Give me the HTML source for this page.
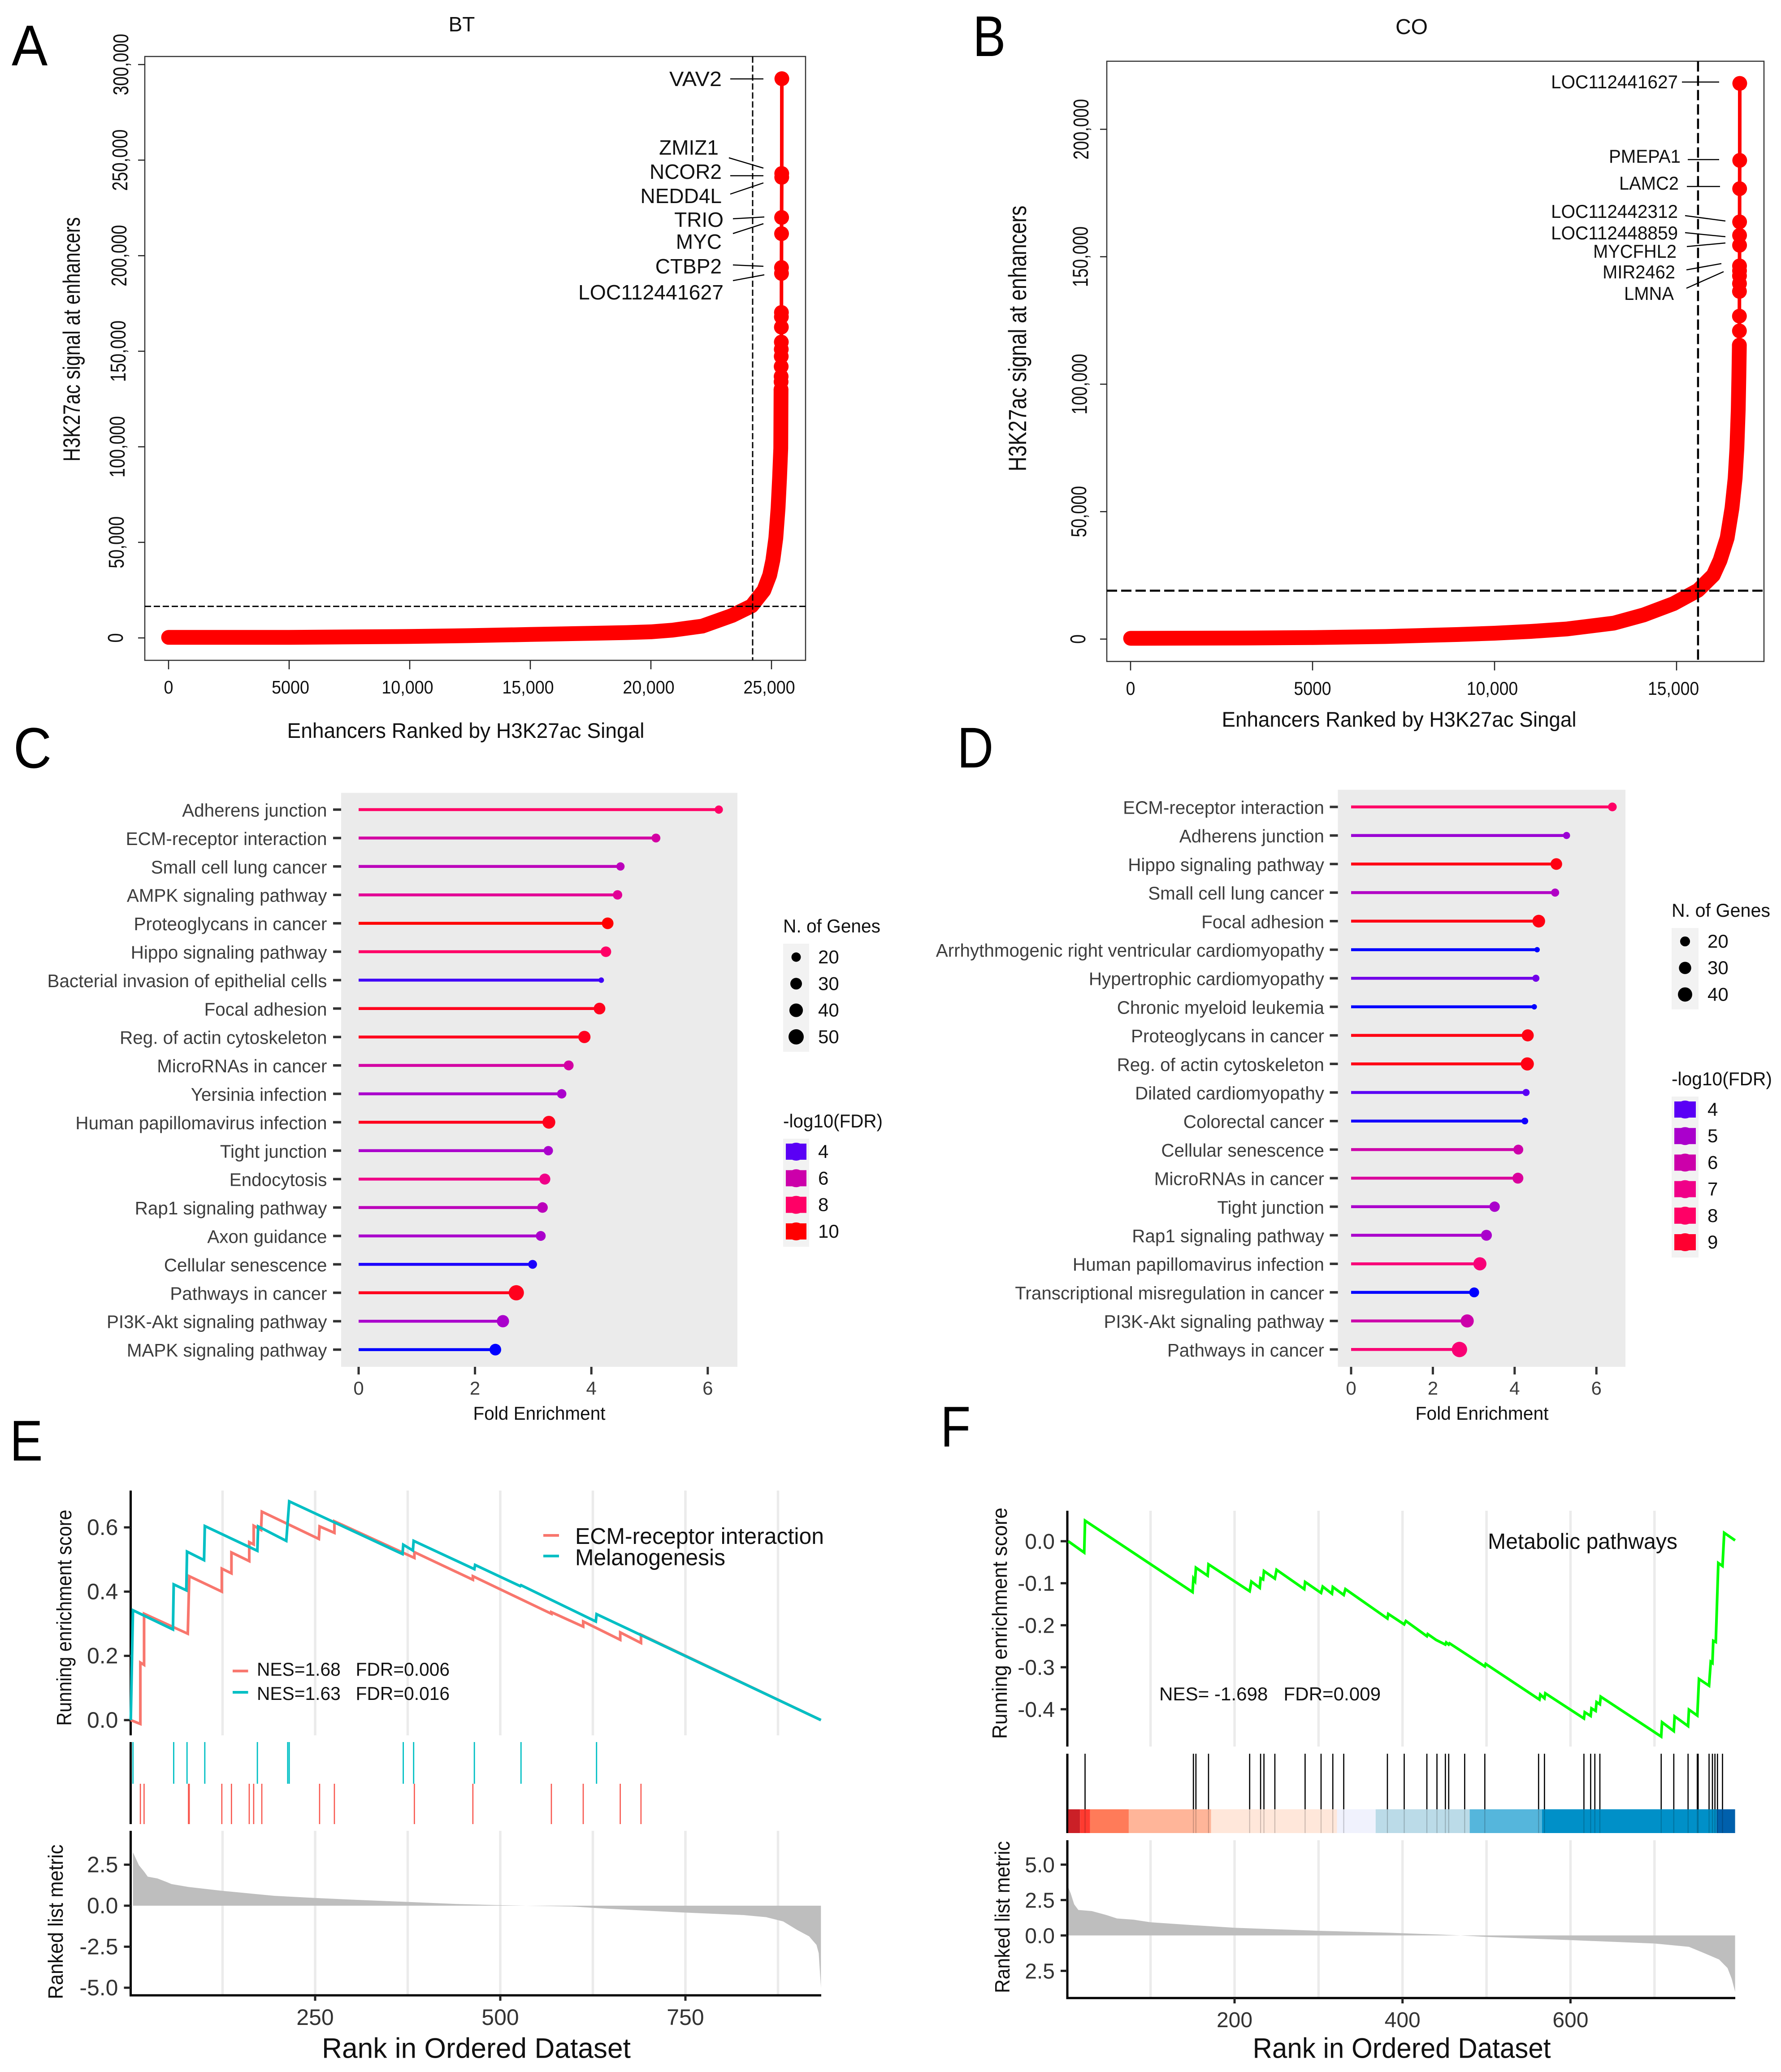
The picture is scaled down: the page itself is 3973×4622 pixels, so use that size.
<!DOCTYPE html>
<html lang="en">
<head>
<meta charset="utf-8">
<title>Enhancer ranking, pathway enrichment and GSEA panels</title>
<style>
html,body{margin:0;padding:0;background:#fff;}
svg{display:block;font-family:"Liberation Sans",Arial,sans-serif;}
text{white-space:pre;}
.g{font-size:46px;fill:#111;text-anchor:end;}
.c{stroke:#000;stroke-width:2.5;fill:none;}
.l{font-size:128px;fill:#000;}
.d{fill:#111;text-anchor:middle;}
</style>
</head>
<body>
<svg id="fig" xmlns="http://www.w3.org/2000/svg" width="3973" height="4622" viewBox="0 0 3973 4622">
<rect width="3973" height="4622" fill="#fff"/>

<text class="l" transform="translate(26,146) scale(.94,1)">A</text>
<text class="l" transform="translate(2170,125) scale(.86,1)">B</text>
<text class="l" transform="translate(30,1713) scale(.92,1)">C</text>
<text class="l" transform="translate(2135,1712) scale(.88,1)">D</text>
<text class="l" transform="translate(22,3258) scale(.86,1)">E</text>
<text class="l" transform="translate(2098,3227) scale(.86,1)">F</text>

<g id="panelA">
<text class="d" x="1030" y="70" font-size="46">BT</text>
<text class="d" transform="translate(178,757) rotate(-90)" font-size="53" textLength="545" lengthAdjust="spacingAndGlyphs">H3K27ac signal at enhancers</text>
<text class="d" x="1039" y="1646" font-size="47" textLength="797" lengthAdjust="spacingAndGlyphs">Enhancers Ranked by H3K27ac Singal</text>
</g>
<g id="panelAlabels">
<text class="g" x="1610" y="192" textLength="117" lengthAdjust="spacingAndGlyphs">VAV2</text>
<text class="g" x="1603" y="345">ZMIZ1</text>
<text class="g" x="1610" y="399">NCOR2</text>
<text class="g" x="1610" y="453">NEDD4L</text>
<text class="g" x="1614" y="506">TRIO</text>
<text class="g" x="1610" y="555">MYC</text>
<text class="g" x="1610" y="610">CTBP2</text>
<text class="g" x="1614" y="668" textLength="324" lengthAdjust="spacingAndGlyphs">LOC112441627</text>
<path class="c" d="M1629 176L1703 176M1626 352L1703 375M1629 392L1703 392M1629 433L1703 408M1635 488L1705 484M1635 521L1703 499M1635 591L1703 594M1635 626L1705 613"/>
</g>

<g id="panelB">
<text class="d" x="3149" y="76" font-size="48">CO</text>
<text class="d" transform="translate(2289,755) rotate(-90)" font-size="56" textLength="593" lengthAdjust="spacingAndGlyphs">H3K27ac signal at enhancers</text>
<text class="d" x="3121" y="1621" font-size="47" textLength="791" lengthAdjust="spacingAndGlyphs">Enhancers Ranked by H3K27ac Singal</text>
</g>
<g id="panelBlabels" font-size="42" fill="#111" text-anchor="end">
<text x="3743" y="197" textLength="283" lengthAdjust="spacingAndGlyphs">LOC112441627</text>
<text x="3749" y="363" textLength="160" lengthAdjust="spacingAndGlyphs">PMEPA1</text>
<text x="3745" y="423" textLength="133" lengthAdjust="spacingAndGlyphs">LAMC2</text>
<text x="3743" y="486" textLength="283" lengthAdjust="spacingAndGlyphs">LOC112442312</text>
<text x="3743" y="534" textLength="283" lengthAdjust="spacingAndGlyphs">LOC112448859</text>
<text x="3740" y="575" textLength="186" lengthAdjust="spacingAndGlyphs">MYCFHL2</text>
<text x="3737" y="621" textLength="162" lengthAdjust="spacingAndGlyphs">MIR2462</text>
<text x="3734" y="669" textLength="111" lengthAdjust="spacingAndGlyphs">LMNA</text>
<path class="c" d="M3752 183L3835 183M3765 356L3835 356M3763 416L3837 416M3759 481L3849 493M3759 519L3849 528M3763 550L3849 542M3762 602L3840 588M3762 643L3845 606"/>
</g>

<g id="panelC"></g>
<g id="panelD"></g>
<g id="panelE"></g>
<g id="panelF"></g>
</svg>

<script>
/* ---------- Panel A data ---------- */
const rankA = [1,5000,10000,12500,15000,17500,19000,20000,20892,22131,23364,24176,24684,24926,25056,25180,25273,25335,25385,25395,25398,25400,25402,25404,25406,25408,25410,25410,25412,25415,25415,25418,25420,25425,25425,25430];
const signalA = [300,300,760,1200,1800,2400,2800,3200,4060,6170,11730,16730,24870,32840,40580,52300,68030,83600,99200,130000,134000,136800,142000,147300,151000,154800,162600,168000,170300,190700,193800,211500,220000,241000,243000,292600];
const xTicksA = [0,5000,10000,15000,20000,25000];
const xTickLabelsA = ["0","5000","10,000","15,000","20,000","25,000"];
const yTicksA = [0,50000,100000,150000,200000,250000,300000];
const yTickLabelsA = ["0","50,000","100,000","150,000","200,000","250,000","300,000"];
const cutoffSignalA = 16500;
const cutoffRankA = 24219;

/* ---------- Panel B data ---------- */
const rankB = [1,3000,5000,7000,9000,10000,11000,12000,13276,14097,14913,15591,16010,16194,16391,16523,16609,16658,16695,16712,16725,16727,16727,16728,16729,16729,16730,16730,16731,16731,16732,16733,16735,16736];
const signalB = [300,400,600,1000,1800,2300,3000,4000,6260,9480,13880,19150,25080,30880,39680,51460,63120,74850,90000,103000,115300,120900,126700,136400,139500,142500,144500,146400,154500,158400,163660,176700,187800,218000];
const xTicksB = [0,5000,10000,15000];
const xTickLabelsB = ["0","5000","10,000","15,000"];
const yTicksB = [0,50000,100000,150000,200000];
const yTickLabelsB = ["0","50,000","100,000","150,000","200,000"];
const cutoffSignalB = 19000;
const cutoffRankB = 15590;

/* ---------- Panel C data ---------- */
const pathwaysC = ["Adherens junction","ECM-receptor interaction","Small cell lung cancer","AMPK signaling pathway","Proteoglycans in cancer","Hippo signaling pathway","Bacterial invasion of epithelial cells","Focal adhesion","Reg. of actin cytoskeleton","MicroRNAs in cancer","Yersinia infection","Human papillomavirus infection","Tight junction","Endocytosis","Rap1 signaling pathway","Axon guidance","Cellular senescence","Pathways in cancer","PI3K-Akt signaling pathway","MAPK signaling pathway"];
const foldC = [6.19,5.11,4.50,4.45,4.28,4.25,4.17,4.14,3.88,3.61,3.49,3.27,3.26,3.20,3.16,3.13,2.99,2.71,2.48,2.35];
const genesC = [16,18,16,20,30,25,8,30,33,22,20,36,20,27,25,22,18,50,33,30];
const fdrC = [8,6.2,5.5,6.6,10,8,3.7,9.4,9.4,6.2,5,9.4,5,7,5.5,5,3.3,9.4,5,3];
const xTicksC = [0,2,4,6];
const sizeLegendC = [20,30,40,50];
const colorLegendC = [4,6,8,10];

/* ---------- Panel D data ---------- */
const pathwaysD = ["ECM-receptor interaction","Adherens junction","Hippo signaling pathway","Small cell lung cancer","Focal adhesion","Arrhythmogenic right ventricular cardiomyopathy","Hypertrophic cardiomyopathy","Chronic myeloid leukemia","Proteoglycans in cancer","Reg. of actin cytoskeleton","Dilated cardiomyopathy","Colorectal cancer","Cellular senescence","MicroRNAs in cancer","Tight junction","Rap1 signaling pathway","Human papillomavirus infection","Transcriptional misregulation in cancer","PI3K-Akt signaling pathway","Pathways in cancer"];
const foldD = [6.39,5.27,5.02,4.99,4.59,4.55,4.52,4.48,4.32,4.31,4.28,4.25,4.09,4.08,3.51,3.31,3.15,3.01,2.84,2.65];
const genesD = [16,11,27,14,32,7,11,7,29,34,11,10,20,24,22,24,34,20,34,46];
const fdrD = [8,4.8,9.6,5.2,9.6,3,4.3,3,9.6,9.6,4,3.2,6,6.4,5,5,7.5,3,6,7.6];
const xTicksD = [0,2,4,6];
const sizeLegendD = [20,30,40];
const colorLegendD = [4,5,6,7,8,9];

/* ---------- Panel E data ---------- */
const esRankRedE = [1,14,14,19,19,78,80,124,124,137,137,161,161,167,167,177,178,255,256,276,276,384,384,463,463,569,569,612,612,662,662,690,690,933];
const esRedE = [0,-0.012,0.179,0.172,0.331,0.269,0.448,0.40,0.4715,0.457,0.522,0.495,0.554,0.547,0.605,0.592,0.649,0.564,0.603,0.583,0.619,0.505,0.523,0.437,0.448,0.331,0.336,0.291,0.307,0.25,0.273,0.24,0.266,0];
const esRankTealE = [1,4,58,59,76,77,100,101,172,173,211,215,368,369,382,383,465,466,527,528,629,630,933];
const esTealE = [0,0.342,0.282,0.4225,0.404,0.5245,0.498,0.604,0.527,0.603,0.558,0.681,0.517,0.546,0.528,0.558,0.47,0.483,0.417,0.42,0.307,0.33,0];
const hitsTealE = [4,59,77,101,172,213,215,369,383,465,528,630];
const hitsRedE = [14,19,79,80,124,137,161,167,178,256,276,384,463,569,612,662,690];
const metricRankE = [4,8,12,19,24,37,49,56,79,124,172,195,250,303,375,442,500,535,596,643,750,828,859,882,901,917,927,930,933];
const metricE = [3.25,2.86,2.47,2.08,1.77,1.66,1.45,1.32,1.14,0.91,0.70,0.6,0.47,0.36,0.23,0.1,0.03,0,-0.05,-0.18,-0.42,-0.57,-0.7,-0.96,-1.48,-1.87,-2.39,-2.9,-5];
const gridE = [125,250,375,500,625,750,875];
const xTicksE = [250,500,750];
const esTicksE = [0,0.2,0.4,0.6];
const esTickLabelsE = ["0.0","0.2","0.4","0.6"];
const metricTicksE = [2.5,0,-2.5,-5];
const metricTickLabelsE = ["2.5","0.0","-2.5","-5.0"];

/* ---------- Panel F data ---------- */
const esRankF = [2,21,22,150,151,153,154,168,169,218,220,230,231,234,235,248,250,283,284,303,305,316,317,330,332,382,383,402,404,429,430,440,451,452,455,456,498,499,563,564,569,570,616,617,624,625,630,631,635,636,708,709,723,724,740,741,751,753,765,767,769,770,773,774,776,781,783,796];
const esF = [0,-0.027,0.049,-0.121,-0.089,-0.095,-0.063,-0.082,-0.055,-0.119,-0.096,-0.111,-0.088,-0.091,-0.071,-0.089,-0.068,-0.114,-0.097,-0.123,-0.108,-0.125,-0.109,-0.128,-0.114,-0.184,-0.173,-0.198,-0.19,-0.226,-0.221,-0.235,-0.246,-0.241,-0.246,-0.243,-0.298,-0.292,-0.377,-0.365,-0.374,-0.362,-0.422,-0.407,-0.416,-0.398,-0.404,-0.383,-0.388,-0.37,-0.465,-0.431,-0.452,-0.417,-0.44,-0.401,-0.415,-0.328,-0.344,-0.287,-0.29,-0.237,-0.24,-0.177,-0.052,-0.059,0.02,0.002];
const hitsF = [22,151,154,169,218,231,235,248,284,303,317,330,382,402,429,441,451,455,474,498,562,569,616,624,629,635,708,723,740,751,752,765,769,772,775,781];
const bandEndsF = [16,28,74,172,322,368,480,566,774,796];
const bandColorsF = ["#cb2027","#ff3b30","#ff7b59","#ffb599","#ffe7da","#f0f2fd","#bbdbe8","#55b6dc","#0090c8","#0060ac"];
const metricRankF = [2,5,9,14,30,47,60,80,100,152,200,300,381,446,469,500,600,700,741,760,777,787,792,796];
const metricF = [3.4,2.95,2.2,1.8,1.72,1.45,1.2,1.11,0.93,0.72,0.54,0.33,0.2,0.06,0,-0.1,-0.33,-0.57,-0.8,-1.27,-1.7,-2.3,-3.07,-3.98];
const gridF = [100,200,300,400,500,600,700];
const xTicksF = [200,400,600];
const esTicksF = [0,-0.1,-0.2,-0.3,-0.4];
const esTickLabelsF = ["0.0","-0.1","-0.2","-0.3","-0.4"];
const metricTicksF = [5,2.5,0,-2.5];
const metricTickLabelsF = ["5.0","2.5","0.0","2.5"];

/* ---------- helpers ---------- */
const NS = "http://www.w3.org/2000/svg";
function mk(parent, tag, attrs, name, text) {
  const n = document.createElementNS(NS, tag);
  for (const k in attrs) n.setAttribute(k, attrs[k]);
  
  
  if (text !== undefined) n.textContent = text;
  parent.appendChild(n);
  return n;
}
function line(p, x1, y1, x2, y2, stroke, w, name, dash) {
  const a = {x1, y1, x2, y2, stroke, 'stroke-width': w};
  if (dash) a['stroke-dasharray'] = dash;
  return mk(p, 'line', a, name);
}
function label(p, x, y, str, size, anchor, name, fill, sx, rot) {
  const t = 'translate(' + x + ',' + y + ')' + (rot ? ' rotate(' + rot + ')' : '') + (sx ? ' scale(' + sx + ',1)' : '');
  return mk(p, 'text', {transform: t, 'font-size': size, 'text-anchor': anchor, fill: fill || '#111'}, name, str);
}
function pts(xs, ys, fx, fy) {
  return xs.map((r, i) => fx(r).toFixed(1) + ',' + fy(ys[i]).toFixed(1)).join(' ');
}

/* ---------- enhancer rank panels ---------- */
function rankPanel(g, o) {
  mk(g, 'rect', {x: o.L, y: o.T, width: o.R - o.L, height: o.B - o.T, fill: 'none', stroke: '#333', 'stroke-width': 2.5}, 'plot-frame');
  const dense = o.signal.filter(v => v <= o.denseMax).length;
  mk(g, 'polyline', {points: pts(o.rank.slice(0, dense), o.signal.slice(0, dense), o.x, o.y), fill: 'none', stroke: '#ff0000', 'stroke-width': o.r * 2, 'stroke-linejoin': 'round', 'stroke-linecap': 'round'}, 'enhancer-curve-dense');
  mk(g, 'polyline', {points: pts(o.rank, o.signal, o.x, o.y), fill: 'none', stroke: '#ff0000', 'stroke-width': 8}, 'enhancer-curve');
  o.signal.forEach((v, i) => {
    if (v > o.denseMax * 0.95) mk(g, 'circle', {cx: o.x(o.rank[i]), cy: o.y(v), r: o.r, fill: '#ff0000'}, 'enhancer-point');
  });
  line(g, o.L, o.y(o.cutS), o.R, o.y(o.cutS), '#000', o.dw, 'super-enhancer-cutoff-signal', o.dash);
  line(g, o.x(o.cutR), o.T, o.x(o.cutR), o.B, '#000', o.dw, 'super-enhancer-cutoff-rank', o.dash);
  o.xTicks.forEach((t, i) => {
    line(g, o.x(t), o.B, o.x(t), o.B + 20, '#222', 2.5, 'x-tick');
    label(g, o.x(t) + o.xNudge[i], o.xLabY, o.xLabels[i], o.xSize, 'middle', 'x-tick-label', '#111', o.xSx);
  });
  o.yTicks.forEach((t, i) => {
    line(g, o.L - 15, o.y(t), o.L, o.y(t), '#222', 2.5, 'y-tick');
    label(g, o.yLabX(t), o.y(t), o.yLabels[i], 48, 'middle', 'y-tick-label', '#111', o.ySx, -90);
  });
}
rankPanel(document.getElementById('panelA'), {
  L: 323, R: 1797, T: 126, B: 1473, r: 16.5, denseMax: 130000, dw: 3, dash: '14 6',
  rank: rankA, signal: signalA, cutS: cutoffSignalA, cutR: cutoffRankA,
  x: r => 376 + r * (1721 - 376) / 25000, y: v => 1423 - v * (1423 - 144) / 300000,
  xTicks: xTicksA, xLabels: xTickLabelsA, xNudge: [0, 3, -5, -5, -5, -5], xLabY: 1547, xSize: 41, xSx: 0.92,
  yTicks: yTicksA, yLabels: yTickLabelsA, ySx: 0.79, yLabX: v => 274 + v / 300000 * 12
});
rankPanel(document.getElementById('panelB'), {
  L: 2469, R: 3935, T: 136.6, B: 1475.5, r: 16.5, denseMax: 116000, dw: 4.5, dash: '23 9',
  rank: rankB, signal: signalB, cutS: cutoffSignalB, cutR: cutoffRankB,
  x: r => 2522 + r * 406 / 5000, y: v => 1425.6 - v * 284.3 / 50000,
  xTicks: xTicksB, xLabels: xTickLabelsB, xNudge: [0, 0, -5, -7], xLabY: 1550, xSize: 42, xSx: 0.89,
  yTicks: yTicksB, yLabels: yTickLabelsB, ySx: 0.78, yLabX: v => 2421 + v / 200000 * 7
});
document.getElementById('panelA').appendChild(document.getElementById('panelAlabels'));
document.getElementById('panelB').appendChild(document.getElementById('panelBlabels'));

/* ---------- lollipop panels ---------- */
const fdrStops = [3,4,5,6,7,8,9,10];
const fdrStopRGB = [[0,0,255],[90,0,245],[170,0,204],[204,0,170],[240,0,136],[255,0,102],[255,0,48],[255,0,0]];
function fdrColor(v) {
  let i = 0;
  while (i < fdrStops.length - 2 && v > fdrStops[i + 1]) i++;
  const f = Math.max(0, Math.min(1, (v - fdrStops[i]) / (fdrStops[i + 1] - fdrStops[i])));
  const c = fdrStopRGB[i].map((a, k) => Math.round(a + (fdrStopRGB[i + 1][k] - a) * f));
  return 'rgb(' + c.join(',') + ')';
}
function lollipop(g, o) {
  mk(g, 'rect', {x: o.L, y: o.T, width: o.R - o.L, height: o.B - o.T, fill: '#ebebeb'}, 'plot-background');
  const x = v => o.x0 + v * o.xu;
  const y = i => o.y0 + i * o.dy;
  o.cats.forEach((c, i) => {
    line(g, o.L - 18, y(i), o.L, y(i), '#333', 5.5, 'y-tick');
    label(g, o.labR, y(i) + 15.5, c, 41, 'end', 'pathway-label', '#3d3d3d', 0.985);
    line(g, x(0), y(i), x(o.fold[i]), y(i), fdrColor(o.fdr[i]), 6.5, 'lollipop-stem', null);
    mk(g, 'circle', {cx: x(o.fold[i]), cy: y(i), r: o.size(o.genes[i]), fill: fdrColor(o.fdr[i])}, 'lollipop-dot');
  });
  o.xTicks.forEach(t => {
    line(g, x(t), o.B, x(t), o.B + 17, '#333', 5, 'x-tick');
    label(g, x(t), 3111, String(t), 42, 'middle', 'x-tick-label', '#3d3d3d');
  });
  mk(g, 'text', {x: o.titleX, y: 3167, 'font-size': 42, 'text-anchor': 'middle', fill: '#111', textLength: o.titleW, lengthAdjust: 'spacingAndGlyphs'}, 'x-axis-title', 'Fold Enrichment');

  mk(g, 'text', {x: o.legX, y: o.legY1 - 25, 'font-size': 42, fill: '#111', textLength: o.sizeTitleW, lengthAdjust: 'spacingAndGlyphs'}, 'size-legend-title', 'N. of Genes');
  mk(g, 'rect', {x: o.legX, y: o.legY1, width: o.keyW, height: o.sizeLeg.length * o.legDy + 4, fill: '#f2f2f2'}, 'size-legend-background');
  o.sizeLeg.forEach((n, i) => {
    const cy = o.legY1 + 30 + i * o.legDy;
    mk(g, 'circle', {cx: o.legX + o.keyW / 2, cy, r: o.size(n), fill: '#000'}, 'size-legend-dot');
    label(g, o.legX + o.keyW + 20, cy + 14, String(n), 42, 'start', 'size-legend-label');
  });
  mk(g, 'text', {x: o.legX, y: o.legY2 - 25, 'font-size': 42, fill: '#111', textLength: o.colorTitleW, lengthAdjust: 'spacingAndGlyphs'}, 'color-legend-title', '-log10(FDR)');
  mk(g, 'rect', {x: o.legX, y: o.legY2, width: o.keyW, height: o.colLeg.length * o.legDy + 4, fill: '#f2f2f2'}, 'color-legend-background');
  o.colLeg.forEach((v, i) => {
    const cy = o.legY2 + 29 + i * o.legDy;
    mk(g, 'rect', {x: o.legX + 6, y: cy - 18, width: o.keyW - 12, height: 36, fill: fdrColor(v)}, 'color-legend-swatch');
    mk(g, 'circle', {cx: o.legX + o.keyW / 2, cy, r: 20, fill: fdrColor(v)}, 'color-legend-dot');
    label(g, o.legX + o.keyW + 20, cy + 14, String(v), 42, 'start', 'color-legend-label');
  });
}
lollipop(document.getElementById('panelC'), {
  L: 761, R: 1645, T: 1768.6, B: 3049, x0: 800, xu: 129.8, y0: 1806, dy: 63.4, labR: 729.5,
  cats: pathwaysC, fold: foldC, genes: genesC, fdr: fdrC, xTicks: xTicksC, titleX: 1203, titleW: 295,
  size: n => Math.sqrt(Math.max(8, 64 + 3.5 * (n - 20))) / 0.765,
  legX: 1747, keyW: 58, legY1: 2105, legY2: 2540, legDy: 59.3, sizeLeg: sizeLegendC, colLeg: colorLegendC, sizeTitleW: 217, colorTitleW: 222
});
lollipop(document.getElementById('panelD'), {
  L: 2984.5, R: 3626, T: 1761.7, B: 3049, x0: 3014, xu: 91.2, y0: 1800, dy: 63.7, labR: 2954,
  cats: pathwaysD, fold: foldD, genes: genesD, fdr: fdrD, xTicks: xTicksD, titleX: 3306, titleW: 297,
  size: n => Math.sqrt(Math.max(8, 81 + 4.4 * (n - 20))) / 0.8154,
  legX: 3729, keyW: 60, legY1: 2070, legY2: 2446, legDy: 59.2, sizeLeg: sizeLegendD, colLeg: colorLegendD, sizeTitleW: 220, colorTitleW: 224
});

/* ---------- GSEA panels ---------- */
function gseaFrame(g, o) {
  o.grid.forEach(t => {
    line(g, o.x(t), o.topT, o.x(t), o.topB, '#ebebeb', 5.5, 'gridline-es');
    line(g, o.x(t), o.botT, o.x(t), o.botB, '#ebebeb', 5.5, 'gridline-metric');
  });
  const rows = o.metricRank;
  const poly = o.x(rows[0]).toFixed(1) + ',' + o.yM(0).toFixed(1) + ' ' + pts(rows, o.metric, o.x, o.yM) + ' ' + o.x(rows[rows.length - 1]).toFixed(1) + ',' + o.yM(0).toFixed(1);
  mk(g, 'polygon', {points: poly, fill: '#bebebe'}, 'ranked-metric-area');
  line(g, o.axX, o.topT, o.axX, o.topB, '#000', 5, 'es-y-axis');
  line(g, o.axX, o.midT, o.axX, o.midB, '#000', 5, 'rug-y-axis');
  line(g, o.axX, o.botT, o.axX, o.botB, '#000', 5, 'metric-y-axis');
  line(g, o.axX - 2.5, o.botB, o.axR, o.botB, '#000', 5, 'x-axis');
  o.esTicks.forEach((t, i) => {
    line(g, o.axX - 15, o.yE(t), o.axX, o.yE(t), '#222', 5, 'es-y-tick');
    label(g, o.axX - 28, o.yE(t) + 17, o.esLabels[i], o.ts, 'end', 'es-y-tick-label', '#333');
  });
  o.metricTicks.forEach((t, i) => {
    line(g, o.axX - 15, o.yM(t), o.axX, o.yM(t), '#222', 5, 'metric-y-tick');
    label(g, o.axX - 28, o.yM(t) + 17, o.metricLabels[i], o.ts, 'end', 'metric-y-tick-label', '#333');
  });
  o.xTicks.forEach(t => {
    line(g, o.x(t), o.botB, o.x(t), o.botB + 12, '#222', 5, 'x-tick');
    label(g, o.x(t), o.xLabY, String(t), o.ts, 'middle', 'x-tick-label', '#333');
  });
  mk(g, 'text', {transform: 'translate(' + o.yt1[0] + ',' + o.yt1[1] + ') rotate(-90)', 'font-size': 46, 'text-anchor': 'middle', fill: '#111', textLength: o.yt1[2], lengthAdjust: 'spacingAndGlyphs'}, 'es-y-axis-title', 'Running enrichment score');
  mk(g, 'text', {transform: 'translate(' + o.yt2[0] + ',' + o.yt2[1] + ') rotate(-90)', 'font-size': 46, 'text-anchor': 'middle', fill: '#111', textLength: o.yt2[2], lengthAdjust: 'spacingAndGlyphs'}, 'metric-y-axis-title', 'Ranked list metric');
  mk(g, 'text', {x: o.xt[0], y: 4590.5, 'font-size': 63, 'text-anchor': 'middle', fill: '#111', textLength: o.xt[1], lengthAdjust: 'spacingAndGlyphs'}, 'x-axis-title', 'Rank in Ordered Dataset');
}

const gE = document.getElementById('panelE');
const xE = r => 703 + (r - 250) * 1.652;
const yEsE = v => 3837 - v * 716.5;
const yMetE = v => 4251 - v * 36.6;
gseaFrame(gE, {
  x: xE, yE: yEsE, yM: yMetE, grid: gridE, axX: 291.5, axR: 1832,
  topT: 3325, topB: 3871, midT: 3886, midB: 4069, botT: 4084, botB: 4451,
  metricRank: metricRankE, metric: metricE,
  esTicks: esTicksE, esLabels: esTickLabelsE, metricTicks: metricTicksE, metricLabels: metricTickLabelsE,
  xTicks: xTicksE, xLabY: 4517, ts: 50, yt1: [159, 3608.6, 482], yt2: [140, 4287, 345], xt: [1062.5, 689]
});
mk(gE, 'polyline', {points: pts(esRankRedE, esRedE, xE, yEsE), fill: 'none', stroke: '#f8766d', 'stroke-width': 6}, 'es-line-ecm-receptor');
mk(gE, 'polyline', {points: pts(esRankTealE, esTealE, xE, yEsE), fill: 'none', stroke: '#00bfc4', 'stroke-width': 6}, 'es-line-melanogenesis');
hitsTealE.forEach(h => { line(gE, xE(h), 3886, xE(h), 3979, '#00bfc4', 2.8, 'rug-melanogenesis'); });
hitsRedE.forEach(h => { line(gE, xE(h), 3979, xE(h), 4069, '#f8564d', 2.6, 'rug-ecm-receptor'); });
line(gE, 1212, 3425, 1247, 3425, '#f8766d', 6, 'legend-key-ecm-receptor');
line(gE, 1212, 3471, 1247, 3471, '#00bfc4', 6, 'legend-key-melanogenesis');
mk(gE, 'text', {x: 1283, y: 3444, 'font-size': 51, fill: '#111', textLength: 555, lengthAdjust: 'spacingAndGlyphs'}, 'legend-label-ecm-receptor', 'ECM-receptor interaction');
mk(gE, 'text', {x: 1283, y: 3491.6, 'font-size': 51, fill: '#111', textLength: 335, lengthAdjust: 'spacingAndGlyphs'}, 'legend-label-melanogenesis', 'Melanogenesis');
line(gE, 519, 3727.5, 553.5, 3727.5, '#f8766d', 6, 'nes-key-ecm-receptor');
line(gE, 519, 3775, 553.5, 3775, '#00bfc4', 6, 'nes-key-melanogenesis');
mk(gE, 'text', {x: 573, y: 3738, 'font-size': 42, fill: '#111', textLength: 430, lengthAdjust: 'spacingAndGlyphs'}, 'nes-label-ecm-receptor', 'NES=1.68   FDR=0.006');
mk(gE, 'text', {x: 573, y: 3792, 'font-size': 42, fill: '#111', textLength: 430, lengthAdjust: 'spacingAndGlyphs'}, 'nes-label-melanogenesis', 'NES=1.63   FDR=0.016');

const gF = document.getElementById('panelF');
const xF = r => 2754 + (r - 200) * 1.8735;
const yEsF = v => 3438 - v * 937;
const yMetF = v => 4317.4 - v * 31.6;
gseaFrame(gF, {
  x: xF, yE: yEsF, yM: yMetF, grid: gridF, axX: 2381, axR: 3871,
  topT: 3370, topB: 3896, midT: 3912, midB: 4089, botT: 4105, botB: 4457,
  metricRank: metricRankF, metric: metricF,
  esTicks: esTicksF, esLabels: esTickLabelsF, metricTicks: metricTicksF, metricLabels: metricTickLabelsF,
  xTicks: xTicksF, xLabY: 4522, ts: 48, yt1: [2246, 3621, 516], yt2: [2252, 4276.5, 339], xt: [3127, 665]
});
mk(gF, 'polyline', {points: pts(esRankF, esF, xF, yEsF), fill: 'none', stroke: '#00ff00', 'stroke-width': 6}, 'es-line-metabolic-pathways');
bandEndsF.forEach((end, i) => {
  const start = i === 0 ? 2 : bandEndsF[i - 1];
  mk(gF, 'rect', {x: xF(start), y: 4036, width: xF(end) - xF(start), height: 53, fill: bandColorsF[i]}, 'rank-color-band-segment');
});
hitsF.forEach(h => {
  line(gF, xF(h), 3912, xF(h), 4036, '#000', 2.6, 'rug-metabolic-pathways');
  mk(gF, 'line', {x1: xF(h), y1: 4036, x2: xF(h), y2: 4089, stroke: '#000', 'stroke-width': 2.2, 'stroke-opacity': 0.2}, 'rug-over-band');
});
mk(gF, 'text', {x: 3319, y: 3455, 'font-size': 49, fill: '#111', textLength: 423, lengthAdjust: 'spacingAndGlyphs'}, 'gene-set-label', 'Metabolic pathways');
mk(gF, 'text', {x: 2586, y: 3793, 'font-size': 42, fill: '#111', textLength: 494, lengthAdjust: 'spacingAndGlyphs'}, 'nes-label-metabolic-pathways', 'NES= -1.698   FDR=0.009');
</script>
</body>
</html>
